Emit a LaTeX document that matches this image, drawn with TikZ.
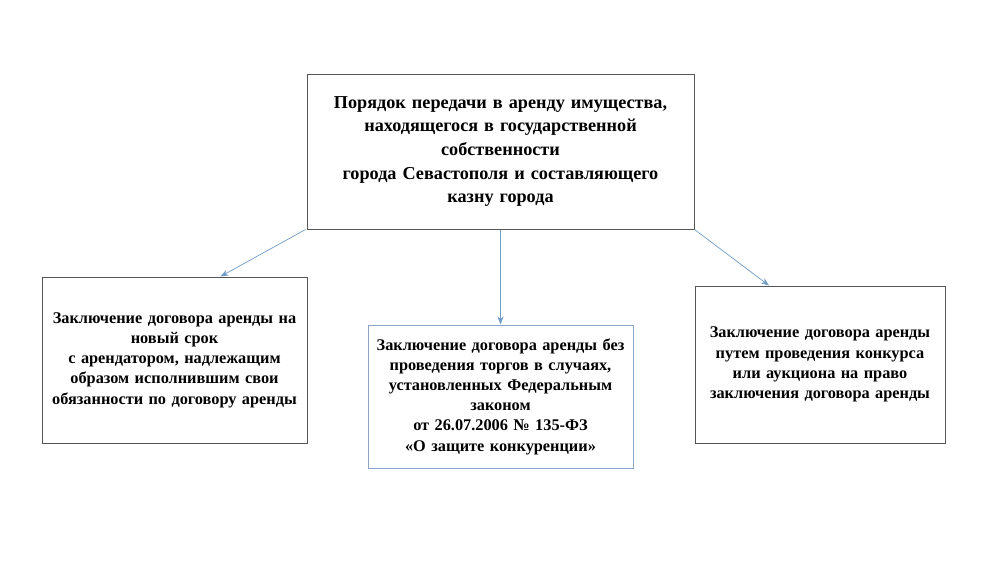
\documentclass[tikz,border=0pt]{standalone}
\usepackage{fontspec}
\setmainfont{Liberation Serif}
\usetikzlibrary{arrows.meta}
\begin{document}
\begin{tikzpicture}[x=1pt,y=-1pt,
  box/.style={draw=#1, line width=1pt, inner sep=0pt, align=center, font=\bfseries},
  big/.style={font=\fontsize{18.2}{23.5}\selectfont\bfseries},
  small/.style={font=\fontsize{16.3}{20.2}\selectfont\bfseries},
  arr/.style={draw=arrowblue, line width=0.7pt, -{Stealth[length=8pt,width=6pt]}}]
\definecolor{boxgray}{RGB}{85,85,85}
\definecolor{midblue}{RGB}{140,165,195}
\definecolor{arrowblue}{RGB}{110,155,200}
\useasboundingbox (0,0) rectangle (1000,563);
\node[box=boxgray, big, minimum width=387pt, minimum height=155pt, text width=375pt] (top) at (500.5,151.5)
 {Порядок передачи в аренду имущества,\\ находящегося в государственной\\ собственности\\ города Севастополя и составляющего\\ казну города};
\node[box=boxgray, small, minimum width=265pt, minimum height=166pt, text width=262pt] (left) at (174.5,360)
 {Заключение договора аренды на\\ новый срок\\ с арендатором, надлежащим\\ образом исполнившим свои\\ обязанности по договору аренды};
\node[box=midblue, small, minimum width=265pt, minimum height=143pt, text width=262pt] (mid) at (500.5,396.5)
 {Заключение договора аренды без\\ проведения торгов в случаях,\\ установленных Федеральным\\ законом\\ от 26.07.2006 № 135-ФЗ\\ «О защите конкуренции»};
\node[box=boxgray, small, minimum width=250pt, minimum height=157pt, text width=246pt] (right) at (820,364.5)
 {Заключение договора аренды\\ путем проведения конкурса\\ или аукциона на право\\ заключения договора аренды};
\draw[arr] ([xshift=-1pt]top.south west) -- ([xshift=46pt]left.north);
\draw[arr] (top.south) -- (mid.north);
\draw[arr] (top.south east) -- ([xshift=-51pt]right.north);
\end{tikzpicture}
\end{document}
